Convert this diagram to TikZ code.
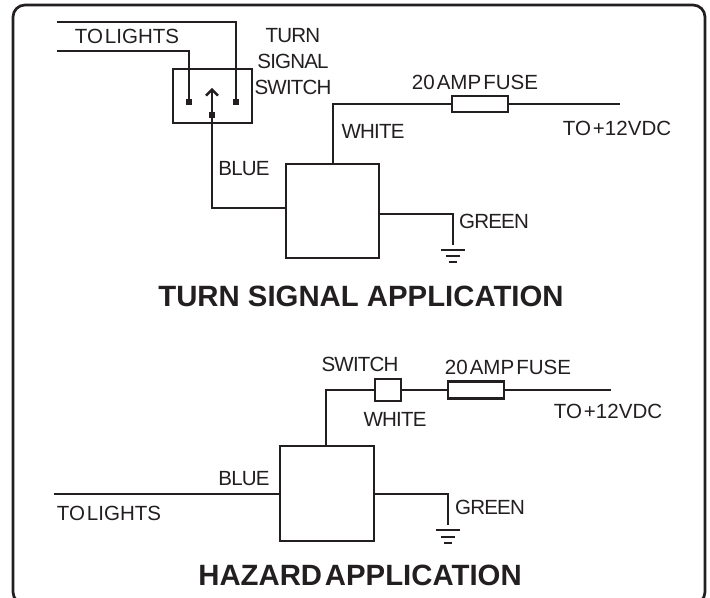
\documentclass[tikz,border=0pt]{standalone}
\usepackage{fontspec}
\setmainfont{Liberation Sans}
\newfontfamily\tightfont[LetterSpace=-4]{Liberation Sans}
\newfontfamily\phrasefont[WordSpace=0.7]{Liberation Sans}
\newfontfamily\headfont[WordSpace=0.35]{Liberation Sans}
\usepackage{xcolor}
\usepackage{tikz}
\usetikzlibrary{arrows.meta}
\definecolor{inkc}{HTML}{231F20}
\tikzset{
    wire/.style={draw=inkc, line width=1.75pt},
    part/.style={draw=inkc, line width=1.75pt, fill=white, inner sep=0pt, outer sep=0pt},
    gndbar/.style={fill=inkc, inner sep=0pt, outer sep=0pt, minimum height=1.6pt},
    pin/.style={fill=inkc, inner sep=0pt, outer sep=0pt, minimum size=3.8pt},
    lbl/.style={text=inkc, font=\tightfont\fontsize{15.4}{19.5}\selectfont, inner sep=0pt},
    phrase/.style={text=inkc, font=\phrasefont\fontsize{15.4}{19.5}\selectfont, inner sep=0pt},
    heading/.style={text=inkc, font=\fontsize{22}{26}\selectfont\bfseries, inner sep=0pt},
}

\begin{document}
\begin{tikzpicture}[x=0.75pt,y=-0.75pt]
    \useasboundingbox (0,0) rectangle (710,598);
    \draw[inkc, line width=2pt, rounded corners=9pt] (13,604) -- (13,5) -- (705,5) -- (705,604) -- cycle;

    % turn signal application
    \node[part, minimum width=59pt, minimum height=40.5pt] (switchT) at (212.5,96) {};
    \node[part, minimum width=70pt, minimum height=70.5pt] (relayT) at (332.5,211) {};
    \node[part, minimum width=42pt, minimum height=12pt] (fuseT) at (480,104) {};

    \node[pin] (pinA) at (189,102) {};
    \node[pin] (pinB) at (236,102) {};
    \node[pin] (pinC) at (212,115) {};

    \coordinate (lightsA) at (57,22);
    \coordinate (lightsB) at (57,51);
    \coordinate (blueT) at (286,208);
    \coordinate (arrowT) at (212,88);
    \coordinate (whiteT) at (333,164);
    \coordinate (supplyT) at (620,104);
    \coordinate (greenT) at (379,214);

    \node[gndbar, minimum width=18.5pt] (gndT) at (453,250) {};
    \node[gndbar, minimum width=11pt] (gndTb) at (453,256) {};
    \node[gndbar, minimum width=5.5pt] (gndTc) at (453,262) {};

    \draw[wire] (lightsA) -| (pinB);
    \draw[wire] (lightsB) -| (pinA);
    \draw[wire, -{Straight Barb[length=4.5pt,width=9pt]}] (blueT) -| (arrowT);
    \draw[wire] (whiteT) |- (fuseT.west);
    \draw[wire] (fuseT.east) -- (supplyT);
    \draw[wire] (greenT) -| ([yshift=3pt]gndT.north);

    \node[phrase] (lightsT) at (127,36) {TO LIGHTS};
    \node[lbl, align=center] (switchlbl) at (293,62) {TURN\\SIGNAL\\SWITCH};
    \node[phrase] (fuselbl) at (475,82) {20 AMP FUSE};
    \node[lbl] (whitelbl) at (373,131) {WHITE};
    \node[phrase] (voltlbl) at (617,128) {TO +12VDC};
    \node[lbl] (bluelbl) at (244,169) {BLUE};
    \node[lbl] (greenlbl) at (494,221) {GREEN};
    \node[heading] (titleT) at (361,296) {TURN SIGNAL APPLICATION};

    % hazard application
    \node[part, minimum width=70.5pt, minimum height=71pt] (relayH) at (327,493.5) {};
    \node[part, minimum width=19.5pt, minimum height=16.5pt] (switchH) at (388,390) {};
    \node[part, minimum width=42pt, minimum height=12.5pt] (fuseH) at (476,390) {};

    \coordinate (whiteH) at (326,446);
    \coordinate (supplyH) at (611,390);
    \coordinate (lightsH) at (54,494);
    \coordinate (blueH) at (280,494);
    \coordinate (greenH) at (375,494);

    \node[gndbar, minimum width=18.5pt] (gndH) at (448,530) {};
    \node[gndbar, minimum width=11pt] (gndHb) at (448,537) {};
    \node[gndbar, minimum width=5.5pt] (gndHc) at (448,543) {};

    \draw[wire] (whiteH) |- (switchH.west);
    \draw[wire] (switchH.east) -- (fuseH.west);
    \draw[wire] (fuseH.east) -- (supplyH);
    \draw[wire] (lightsH) -- (blueH);
    \draw[wire] (greenH) -| ([yshift=3pt]gndH.north);

    \node[lbl] (switchHlbl) at (360,364) {SWITCH};
    \node[phrase] (fuseHlbl) at (508,367) {20 AMP FUSE};
    \node[lbl] (whiteHlbl) at (395,419) {WHITE};
    \node[phrase] (voltHlbl) at (608,411) {TO +12VDC};
    \node[lbl] (blueHlbl) at (244,479) {BLUE};
    \node[phrase] (lightsHlbl) at (109,513) {TO LIGHTS};
    \node[lbl] (greenHlbl) at (490,507) {GREEN};
    \node[heading, font=\headfont\fontsize{22}{26}\selectfont\bfseries] (titleH) at (360,575) {HAZARD APPLICATION};
\end{tikzpicture}
\end{document}
